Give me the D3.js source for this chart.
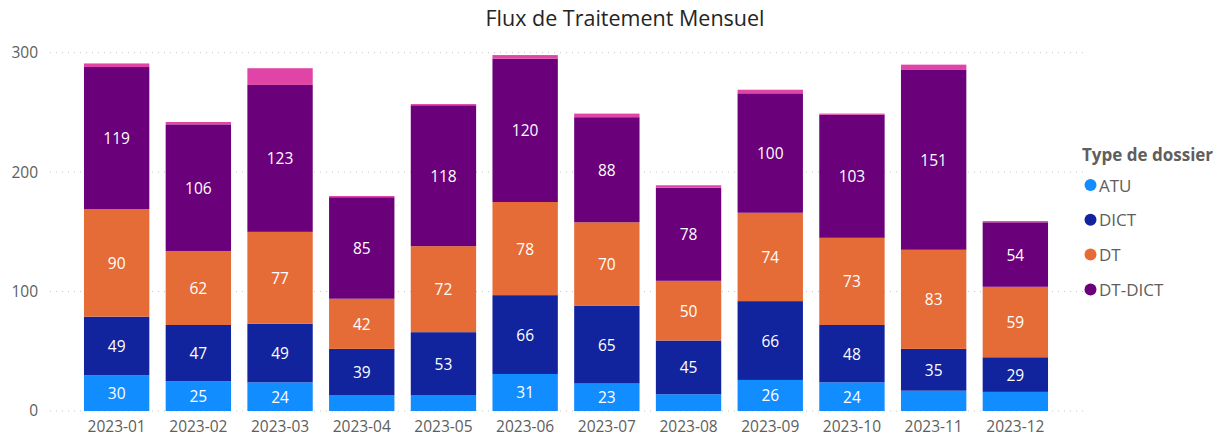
<!DOCTYPE html>
<html><head><meta charset="utf-8">
<script src="https://cdn.jsdelivr.net/npm/d3@7"></script>
<style>
body{margin:0;background:#fff;}
svg{font-family:"Segoe UI","Open Sans",sans-serif;}
</style></head><body>
<svg id="c" width="1227" height="439"></svg>
<script>
const months = ["2023-01","2023-02","2023-03","2023-04","2023-05","2023-06","2023-07","2023-08","2023-09","2023-10","2023-11","2023-12"];
const seriesNames = ["ATU","DICT","DT","DT-DICT","Autre"];
const legendNames = ["ATU","DICT","DT","DT-DICT"];
const atu    = [30,25,24,13,13,31,23,14,26,24,17,16];
const dict   = [49,47,49,39,53,66,65,45,66,48,35,29];
const dt     = [90,62,77,42,72,78,70,50,74,73,83,59];
const dtdict = [119,106,123,85,118,120,88,78,100,103,151,54];
const autre  = [3,2,14,1,1,3,3,2,3,1,4,1];
const yTicks = [0,100,200,300];
const colors = ["#118DFF","#12239E","#E66C37","#6B007B","#E044A7"];

const rows = months.map((m,i)=>({month:m, ATU:atu[i], DICT:dict[i], DT:dt[i], "DT-DICT":dtdict[i], Autre:autre[i]}));
const stacked = d3.stack().keys(seriesNames)(rows);

const svg = d3.select("#c");
const x = d3.scaleBand().domain(months).range([75.8,1056.2]).paddingInner(0.2).paddingOuter(0.1);
const y = d3.scaleLinear().domain([0,300]).range([411,52.7]);
const color = d3.scaleOrdinal().domain(seriesNames).range(colors);
const FONT = "'Segoe UI','Open Sans',sans-serif";

// title
svg.append("text").attr("x",625).attr("y",26).attr("text-anchor","middle")
  .attr("font-size",21.5).attr("fill","#252423").text("Flux de Traitement Mensuel");

// grid
svg.append("g").selectAll("line").data(yTicks).join("line")
  .attr("x1",50).attr("x2",1083).attr("y1",d=>y(d)).attr("y2",d=>y(d))
  .attr("stroke","#C8C6C4").attr("stroke-width",1).attr("stroke-dasharray","1,5");

// y axis labels
const yAxis = d3.axisLeft(y).tickValues(yTicks).tickSize(0).tickPadding(0);
const gy = svg.append("g").attr("transform","translate(38,0)").call(yAxis);
gy.select(".domain").remove();
gy.selectAll("text").attr("font-size",15.5).attr("fill","#605E5C").attr("font-family",FONT);

// x axis labels
const xAxis = d3.axisBottom(x).tickSize(0).tickPadding(0);
const gx = svg.append("g").attr("transform","translate(0,421)").call(xAxis);
gx.select(".domain").remove();
gx.selectAll("text").attr("font-size",15.5).attr("fill","#605E5C").attr("font-family",FONT);

// bars
const layers = svg.append("g").selectAll("g").data(stacked).join("g").attr("fill",d=>color(d.key));
layers.selectAll("rect").data(d=>d).join("rect")
  .attr("x",d=>x(d.data.month)).attr("width",x.bandwidth())
  .attr("y",d=>y(d[1])).attr("height",d=>y(d[0])-y(d[1]));

// labels
const lbl = svg.append("g");
stacked.forEach(s=>{
  if (s.key==="Autre") return;
  s.forEach(d=>{
    const v = d[1]-d[0];
    if (v < 20) return;
    lbl.append("text").attr("x",x(d.data.month)+x.bandwidth()/2).attr("y",(y(d[0])+y(d[1]))/2)
      .attr("text-anchor","middle").attr("dominant-baseline","central")
      .attr("font-size",15.5).attr("fill","#fff").text(v);
  });
});

// legend
const lg = svg.append("g");
lg.append("text").attr("x",1082).attr("y",161).attr("font-size",17).attr("font-weight","bold").attr("fill","#605E5C").text("Type de dossier");
legendNames.forEach((n,i)=>{
  const yy = 185 + i*34.8;
  lg.append("circle").attr("cx",1090.5).attr("cy",yy).attr("r",6).attr("fill",color(n));
  lg.append("text").attr("x",1099).attr("y",yy).attr("dominant-baseline","central").attr("font-size",17).attr("fill","#605E5C").text(n);
});
</script>
</body></html>
